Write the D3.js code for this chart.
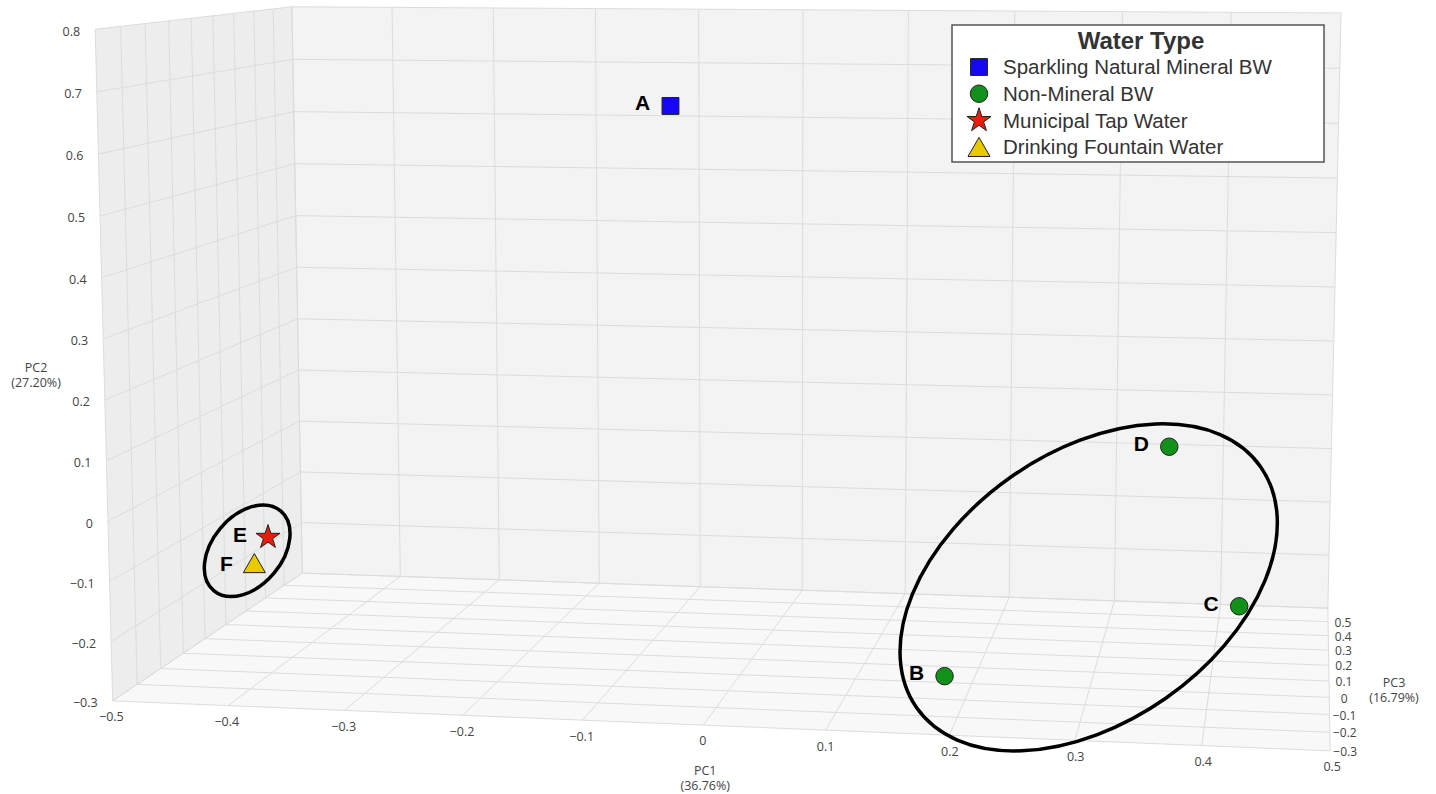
<!DOCTYPE html>
<html>
<head>
<meta charset="utf-8">
<script src="https://cdn.jsdelivr.net/npm/d3@7"></script>
<style>
  body { margin: 0; background: #fff; }
  svg { display: block; }
</style>
</head>
<body>
<svg width="1436" height="794"></svg>
<script>
// samples: name, water type index and the three PCA scores
const names = ["A", "B", "C", "D", "E", "F"];
const types = [0, 1, 1, 1, 2, 3];
const pc1 = [-0.082, 0.183, 0.424, 0.359, -0.420, -0.433];
const pc2 = [0.649, -0.261, -0.152, 0.073, -0.089, -0.141];
const pc3 = [0.2, -0.1, 0.0, 0.2, 0.0, 0.0];

const typeNames = ["Sparkling Natural Mineral BW", "Non-Mineral BW", "Municipal Tap Water", "Drinking Fountain Water"];
const typeColors = ["#1608f2", "#11901a", "#e81d0c", "#e9c900"];

const pc1Ticks = [-0.5, -0.4, -0.3, -0.2, -0.1, 0, 0.1, 0.2, 0.3, 0.4, 0.5];
const pc2Ticks = [-0.3, -0.2, -0.1, 0, 0.1, 0.2, 0.3, 0.4, 0.5, 0.6, 0.7, 0.8];
const pc3Ticks = [-0.3, -0.2, -0.1, 0, 0.1, 0.2, 0.3, 0.4, 0.5, 0.6];
const pc3Labels = [-0.3, -0.2, -0.1, 0, 0.1, 0.2, 0.3, 0.4, 0.5];

// hand drawn cluster rings (offset from the members' centroid, px)
const rings = [
  {members: ["E", "F"], dx: -14, dy: -1, rx: 52, ry: 35, angle: -50},
  {members: ["B", "C", "D"], dx: -29, dy: 11, rx: 210, ry: 135, angle: -35}
];

const svg = d3.select('svg');

const sx = d3.scaleLinear().domain([-0.5, 0.5]).range([0, 1]);
const sy = d3.scaleLinear().domain([-0.3, 0.8]).range([0, 1]);
const sz = d3.scaleLinear().domain([-0.3, 0.6]).range([0, 1]);

// where the visible box corners land on screen (unit cube -> px)
const frame = [
  [0, 1, 0, 95, 29], [0, 0, 0, 113, 701], [0, 1, 1, 292, 7], [0, 0, 1, 302, 573],
  [1, 1, 1, 1341, 13], [1, 0, 1, 1328, 608], [1, 0, 0, 1330, 751]
];

// fit a perspective camera matrix to the corners (DLT, least squares)
function solve(A, b) {
  const n = b.length;
  const M = A.map((r, i) => r.concat([b[i]]));
  for (let c = 0; c < n; c++) {
    let piv = c;
    for (let r = c + 1; r < n; r++) if (Math.abs(M[r][c]) > Math.abs(M[piv][c])) piv = r;
    [M[c], M[piv]] = [M[piv], M[c]];
    for (let r = 0; r < n; r++) {
      if (r === c) continue;
      const f = M[r][c] / M[c][c];
      for (let k = c; k <= n; k++) M[r][k] -= f * M[c][k];
    }
  }
  return M.map((r, i) => r[n] / r[i]);
}
const rows = [], rhs = [];
frame.forEach(([X, Y, Z, u, v]) => {
  u /= 1000; v /= 1000;
  rows.push([X, Y, Z, 1, 0, 0, 0, 0, -u * X, -u * Y, -u * Z]); rhs.push(u);
  rows.push([0, 0, 0, 0, X, Y, Z, 1, -v * X, -v * Y, -v * Z]); rhs.push(v);
});
const AtA = d3.range(11).map(i => d3.range(11).map(j => d3.sum(rows, r => r[i] * r[j])));
const Atb = d3.range(11).map(i => d3.sum(rows, (r, k) => r[i] * rhs[k]));
const p = solve(AtA, Atb);

function proj(X, Y, Z) {
  const w = p[8] * X + p[9] * Y + p[10] * Z + 1;
  return [1000 * (p[0] * X + p[1] * Y + p[2] * Z + p[3]) / w,
          1000 * (p[4] * X + p[5] * Y + p[6] * Z + p[7]) / w];
}
const P = (x, y, z) => proj(sx(x), sy(y), sz(z));

const [x0, x1] = sx.domain(), [y0, y1] = sy.domain(), [z0, z1] = sz.domain();
const fmt = d => (d < 0 ? '\u2212' : '') + Math.abs(d);

// walls
const walls = [
  {pts: [[x0, y0, z1], [x1, y0, z1], [x1, y1, z1], [x0, y1, z1]], fill: '#f3f3f3'},
  {pts: [[x0, y0, z0], [x0, y1, z0], [x0, y1, z1], [x0, y0, z1]], fill: '#ededed'},
  {pts: [[x0, y0, z0], [x1, y0, z0], [x1, y0, z1], [x0, y0, z1]], fill: '#f8f8f8'}
];
svg.append('g').selectAll('path').data(walls).enter().append('path')
  .attr('d', d => d3.line()(d.pts.map(q => P(...q))) + 'Z')
  .attr('fill', d => d.fill);

const gridLines = [];
pc1Ticks.forEach(t => { gridLines.push([[t, y0, z1], [t, y1, z1]]); gridLines.push([[t, y0, z0], [t, y0, z1]]); });
pc2Ticks.forEach(t => { gridLines.push([[x0, t, z1], [x1, t, z1]]); gridLines.push([[x0, t, z0], [x0, t, z1]]); });
pc3Ticks.forEach(t => { gridLines.push([[x0, y0, t], [x0, y1, t]]); gridLines.push([[x0, y0, t], [x1, y0, t]]); });
svg.append('g').selectAll('path').data(gridLines).enter().append('path')
  .attr('d', d => d3.line()(d.map(q => P(...q))))
  .attr('stroke', '#dcdcdc').attr('stroke-width', 1).attr('fill', 'none');

// tick labels
const axes = svg.append('g').attr('font-family', '"Open Sans", sans-serif')
  .attr('font-size', 12.5).attr('fill', '#444');
axes.selectAll('.t2').data(pc2Ticks).enter().append('text')
  .attr('x', d => P(x0, d, z0)[0] - 15).attr('y', d => P(x0, d, z0)[1] + 2)
  .attr('dy', '0.35em').attr('text-anchor', 'end').text(fmt);
axes.selectAll('.t1').data(pc1Ticks).enter().append('text')
  .attr('x', d => {
    const a = P(d, y0, z0), b = P(d, y0, z1);
    const dx = a[0] - b[0], dy = a[1] - b[1];
    return a[0] + dx / Math.hypot(dx, dy) * 4 + 2;
  })
  .attr('y', d => P(d, y0, z0)[1] + 16)
  .attr('dy', '0.35em').attr('text-anchor', 'middle').text(fmt);
axes.selectAll('.t3').data(pc3Labels).enter().append('text')
  .attr('x', d => P(x1, y0, d)[0] + 15).attr('y', d => P(x1, y0, d)[1] + 1)
  .attr('font-size', 12)
  .attr('dy', '0.35em').attr('text-anchor', 'middle').text(fmt);

// axis titles
const titles = [
  {at: P(0, y0, z0), dx: 2, dy: 46, lines: ['PC1', '(36.76%)']},
  {at: P(x0, 0.25, z0), dx: -68, dy: -2, lines: ['PC2', '(27.20%)']},
  {at: P(x1, y0, 0.1), dx: 65, dy: 2, lines: ['PC3', '(16.79%)']}
];
titles.forEach(t => {
  t.lines.forEach((s, i) => axes.append('text')
    .attr('x', t.at[0] + t.dx).attr('y', t.at[1] + t.dy + i * 15)
    .attr('dy', '0.35em').attr('text-anchor', 'middle').text(s));
});

// samples
const shapes = [d3.symbolSquare, d3.symbolCircle, d3.symbolStar, d3.symbolTriangle];
const sizes = [285, 240, 180, 210];
const pts = names.map((n, i) => ({name: n, type: types[i], xy: P(pc1[i], pc2[i], pc3[i])}));

// cluster rings
svg.append('g').selectAll('ellipse').data(rings).enter().append('ellipse')
  .each(function (r) {
    const m = pts.filter(q => r.members.includes(q.name));
    const cx = d3.mean(m, q => q.xy[0]) + r.dx, cy = d3.mean(m, q => q.xy[1]) + r.dy;
    d3.select(this).attr('transform', `translate(${cx},${cy}) rotate(${r.angle})`);
  })
  .attr('rx', r => r.rx).attr('ry', r => r.ry)
  .attr('fill', 'none').attr('stroke', '#000').attr('stroke-width', 3.5);

svg.append('g').selectAll('path').data(pts).enter().append('path')
  .attr('transform', d => `translate(${d.xy[0]},${d.xy[1]})`)
  .attr('d', d => d3.symbol(shapes[d.type], sizes[d.type])())
  .attr('fill', d => typeColors[d.type]).attr('stroke', '#222').attr('stroke-width', 1);

svg.append('g').selectAll('text').data(pts).enter().append('text')
  .attr('x', d => d.xy[0] - 28).attr('y', d => d.xy[1] - 3)
  .attr('dy', '0.35em').attr('text-anchor', 'middle')
  .attr('font-family', '"Liberation Sans", Arial, sans-serif').attr('font-weight', 'bold')
  .attr('font-size', 21).attr('fill', '#000').text(d => d.name);

// legend
const lg = svg.append('g').attr('font-family', '"Liberation Sans", Arial, sans-serif').attr('fill', '#333');
lg.append('rect').attr('x', 952).attr('y', 25).attr('width', 372).attr('height', 137)
  .attr('fill', '#fff').attr('stroke', '#555').attr('stroke-width', 1.5);
lg.append('text').attr('x', 1141).attr('y', 49).attr('text-anchor', 'middle')
  .attr('font-weight', 'bold').attr('font-size', 24).text('Water Type');
const item = lg.selectAll('.item').data(typeNames).enter().append('g')
  .attr('transform', (d, i) => `translate(979,${67 + i * 26.7})`);
item.append('path')
  .attr('d', (d, i) => d3.symbol(shapes[i], sizes[i])())
  .attr('transform', (d, i) => i === 3 ? 'translate(0,3)' : null)
  .attr('fill', (d, i) => typeColors[i]).attr('stroke', '#222').attr('stroke-width', 1);
item.append('text').attr('x', 24).attr('dy', '0.35em').attr('font-size', 20.5).text(d => d);
</script>
</body>
</html>
